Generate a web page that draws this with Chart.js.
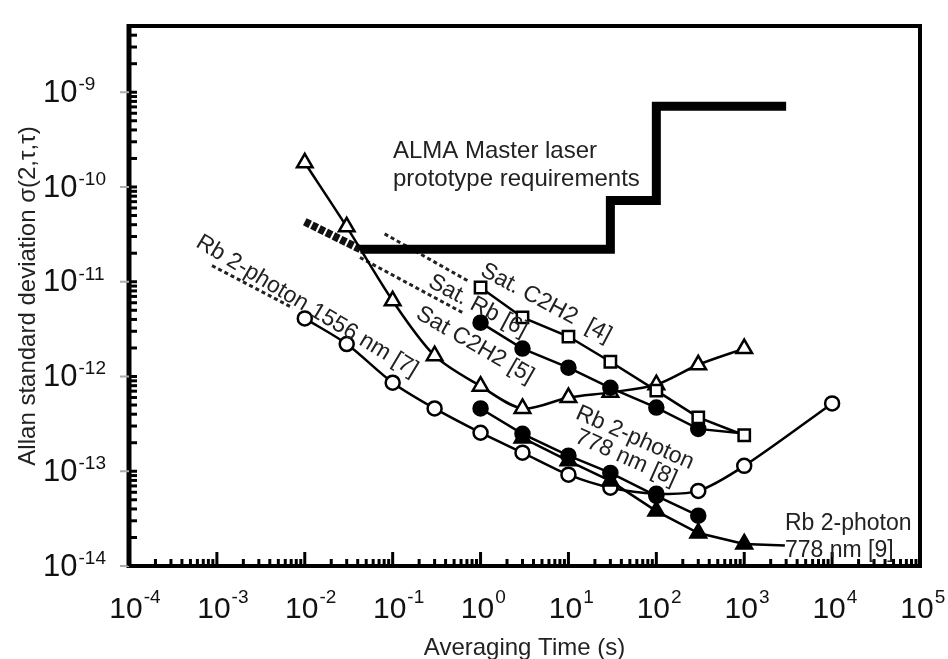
<!DOCTYPE html>
<html>
<head>
<meta charset="utf-8">
<script src="https://cdn.jsdelivr.net/npm/chart.js@4.4.1/dist/chart.umd.min.js"></script>
<style>
  html, body { margin: 0; padding: 0; background: #fff; }
</style>
</head>
<body>
<canvas id="allanChart" width="948" height="659"></canvas>
<script>
// averaging times (s)
const tauLong = [0.01, 0.03, 0.1, 0.3, 1, 3, 10, 30, 100, 300, 1000];
const tau1556 = [0.01, 0.03, 0.1, 0.3, 1, 3, 10, 30, 100, 300, 1000, 10000];
const tauSat = [1, 3, 10, 30, 100, 300, 1000];
const tau778a = [1, 3, 10, 30, 100, 300];
const tau778b = [3, 10, 30, 100, 300, 1000];

// Allan deviation values
const satC2H2_5 = [1.8e-10, 3.8e-11, 6.3e-12, 1.66e-12, 7.9e-13, 4.6e-13, 6.0e-13, 6.8e-13, 8.2e-13, 1.33e-12, 1.97e-12];
const rb1556_7 = [4.1e-12, 2.2e-12, 8.6e-13, 4.6e-13, 2.55e-13, 1.57e-13, 9.2e-14, 6.7e-14, 5.8e-14, 6.2e-14, 1.14e-13, 5.2e-13];
const satC2H2_4 = [8.7e-12, 4.2e-12, 2.64e-12, 1.43e-12, 7.1e-13, 3.7e-13, 2.4e-13];
const satRb_6 = [3.7e-12, 1.97e-12, 1.24e-12, 7.6e-13, 4.7e-13, 2.8e-13, 2.5e-13];
const rb778_8 = [4.6e-13, 2.48e-13, 1.46e-13, 9.6e-14, 5.5e-14, 3.4e-14];
const rb778_9 = [2.25e-13, 1.29e-13, 7.9e-14, 3.8e-14, 2.23e-14, 1.71e-14];

// ALMA requirement (step line + sloped start)
const almaTau = [0.043, 30, 30, 100, 100, 3000];
const almaVal = [2.2e-11, 2.2e-11, 7.2e-11, 7.2e-11, 7.1e-10, 7.1e-10];
const almaSlopeTau = [0.01, 0.043];
const almaSlopeVal = [4.3e-11, 2.2e-11];

// dashed extrapolations
const dash1556Tau = [8.8e-4, 7.3e-3];
const dash1556Val = [1.48e-11, 5.3e-12];
const dashC2H2Tau = [0.081, 0.72];
const dashC2H2Val = [3.2e-11, 1.02e-11];
const dashRbTau = [0.0425, 0.63];
const dashRbVal = [1.8e-11, 4.7e-12];

// leader to the [9] label
const leaderTau = [1000, 2900];
const leaderVal = [1.71e-14, 1.65e-14];

// tick label exponents
const xTickExps = [-4, -3, -2, -1, 0, 1, 2, 3, 4, 5];
const yTickExps = [-14, -13, -12, -11, -10, -9];

const FONT = '"Liberation Sans", Arial, sans-serif';

const pts = (tau, vals) => tau.map((t, i) => ({ x: t, y: vals[i] }));

const line = (tau, vals, extra) => Object.assign({
  data: pts(tau, vals),
  borderColor: '#000',
  borderWidth: 2.5,
  pointRadius: 0,
  pointBorderColor: '#000',
  pointBorderWidth: 2.5,
  fill: false,
  tension: 0
}, extra);

const labels = [
  { text: 'ALMA Master laser', x: 393, y: 158, a: 0, size: 24 },
  { text: 'prototype requirements', x: 393, y: 186, a: 0, size: 24 },
  { text: 'Rb 2-photon 1556 nm [7]', x: 307, y: 306, a: 31, size: 23, c: true },
  { text: 'Sat. C2H2  [4]', x: 546, y: 303, a: 28, size: 23, c: true },
  { text: 'Sat. Rb [6]', x: 478, y: 306, a: 28, size: 23, c: true },
  { text: 'Sat C2H2 [5]', x: 475, y: 345, a: 30, size: 23, c: true },
  { text: 'Rb 2-photon', x: 635, y: 438, a: 24, size: 23, c: true },
  { text: '778 nm [8]', x: 626, y: 458, a: 24, size: 23, c: true },
  { text: 'Rb 2-photon', x: 785, y: 530, a: 0, size: 23 },
  { text: '778 nm [9]', x: 785, y: 557, a: 0, size: 23 }
];

function drawPow(ctx, exp, x, y, mode) {
  const big = mode === 'left' ? 31 : 30;
  const lift = mode === 'left' ? 2 : 6;
  ctx.font = big + 'px ' + FONT;
  const bw = ctx.measureText('10').width;
  const bx = mode === 'left' ? x : x - bw / 2;
  ctx.textAlign = 'left';
  ctx.textBaseline = 'middle';
  ctx.fillText('10', bx, y + 1);
  ctx.font = '19px ' + FONT;
  ctx.textBaseline = 'alphabetic';
  ctx.fillText(String(exp), bx + bw + 1, y - lift);
}

const decor = {
  id: 'decor',
  afterDatasetsDraw(chart) {
    const { ctx, chartArea: a, scales: { x, y } } = chart;
    ctx.save();
    ctx.strokeStyle = '#000';

    // frame
    ctx.lineWidth = 4;
    ctx.beginPath();
    ctx.moveTo(a.left, a.top);
    ctx.lineTo(a.right, a.top);
    ctx.lineTo(a.right, a.bottom);
    ctx.lineTo(a.left, a.bottom);
    ctx.stroke();
    ctx.lineWidth = 5;
    ctx.beginPath();
    ctx.moveTo(a.left, a.top - 2);
    ctx.lineTo(a.left, a.bottom + 2);
    ctx.stroke();

    // y ticks (inward) + grey outer ticks at decades
    ctx.lineWidth = 3;
    for (let e = -14; e <= -9; e++) {
      for (let m = 1; m <= 9; m++) {
        const v = m * Math.pow(10, e);
        if (v > y.max * 1.001) continue;
        const py = y.getPixelForValue(v);
        ctx.beginPath();
        ctx.moveTo(a.left, py);
        ctx.lineTo(a.left + 8, py);
        ctx.stroke();
      }
    }
    ctx.strokeStyle = '#aaa';
    ctx.lineWidth = 2;
    yTickExps.forEach(e => {
      const py = y.getPixelForValue(Math.pow(10, e));
      ctx.beginPath();
      ctx.moveTo(a.left - 9, py);
      ctx.lineTo(a.left, py);
      ctx.stroke();
    });

    // x ticks (inward)
    ctx.strokeStyle = '#000';
    ctx.lineWidth = 3;
    for (let e = -4; e <= 5; e++) {
      for (let m = 1; m <= 9; m++) {
        const v = m * Math.pow(10, e);
        if (v > x.max * 1.001) continue;
        const px = x.getPixelForValue(v);
        const len = m === 1 ? 14 : 7;
        ctx.beginPath();
        ctx.moveTo(px, a.bottom);
        ctx.lineTo(px, a.bottom - len);
        ctx.stroke();
      }
    }

    // tick labels
    ctx.fillStyle = '#111';
    yTickExps.forEach(e => drawPow(ctx, e, 43, y.getPixelForValue(Math.pow(10, e)), 'left'));
    xTickExps.forEach(e => drawPow(ctx, e, x.getPixelForValue(Math.pow(10, e)) - 3, 609, 'center'));

    // axis titles
    ctx.fillStyle = '#222';
    ctx.font = '24px ' + FONT;
    ctx.textAlign = 'center';
    ctx.textBaseline = 'middle';
    ctx.fillText('Averaging Time (s)', (a.left + a.right) / 2, 648);
    ctx.save();
    ctx.translate(28, 296);
    ctx.rotate(-Math.PI / 2);
    ctx.fillText('Allan standard deviation \u03C3(2,\u03C4,\u03C4)', 0, 0);
    ctx.restore();

    // annotations
    labels.forEach(l => {
      ctx.save();
      ctx.font = l.size + 'px ' + FONT;
      ctx.translate(l.x, l.y);
      ctx.rotate(l.a * Math.PI / 180);
      ctx.textAlign = l.c ? 'center' : 'left';
      ctx.textBaseline = l.c ? 'middle' : 'alphabetic';
      ctx.fillText(l.text, 0, 0);
      ctx.restore();
    });
    ctx.restore();
  }
};

new Chart(document.getElementById('allanChart').getContext('2d'), {
  type: 'line',
  data: {
    datasets: [
      line(tauSat, satC2H2_4, { pointRadius: 8, pointStyle: 'rect', pointBackgroundColor: '#fff' }),
      line(tauSat, satRb_6, { pointRadius: [7, 7, 7, 7, 7, 7, 0], pointBackgroundColor: '#000' }),
      line(tauLong, satC2H2_5, { pointRadius: 9, pointStyle: 'triangle', pointBackgroundColor: '#fff', tension: 0.3 }),
      line(tau778a, rb778_8, { pointRadius: 7, pointBackgroundColor: '#000' }),
      line(tau778b, rb778_9, { pointRadius: 9, pointStyle: 'triangle', pointBackgroundColor: '#000' }),
      line(tau1556, rb1556_7, { pointRadius: 7, pointBackgroundColor: '#fff', tension: 0.3 }),
      line(leaderTau, leaderVal, {}),
      line(almaTau, almaVal, { borderWidth: 9, borderJoinStyle: 'miter', borderCapStyle: 'butt' }),
      line(almaSlopeTau, almaSlopeVal, { borderWidth: 8, borderDash: [6, 2], borderColor: '#111' }),
      line(dash1556Tau, dash1556Val, { borderWidth: 3, borderDash: [4, 3], borderColor: '#222' }),
      line(dashC2H2Tau, dashC2H2Val, { borderWidth: 3, borderDash: [4, 3], borderColor: '#222' }),
      line(dashRbTau, dashRbVal, { borderWidth: 3, borderDash: [4, 3], borderColor: '#222' })
    ]
  },
  options: {
    responsive: false,
    animation: false,
    devicePixelRatio: 1,
    layout: { padding: { left: 129, right: 28, top: 26, bottom: 93 } },
    plugins: { legend: { display: false }, tooltip: { enabled: false } },
    scales: {
      x: { type: 'logarithmic', min: 1e-4, max: 1e5, display: false },
      y: { type: 'logarithmic', min: 1e-14, max: 5e-9, display: false }
    }
  },
  plugins: [decor]
});
</script>
</body>
</html>
